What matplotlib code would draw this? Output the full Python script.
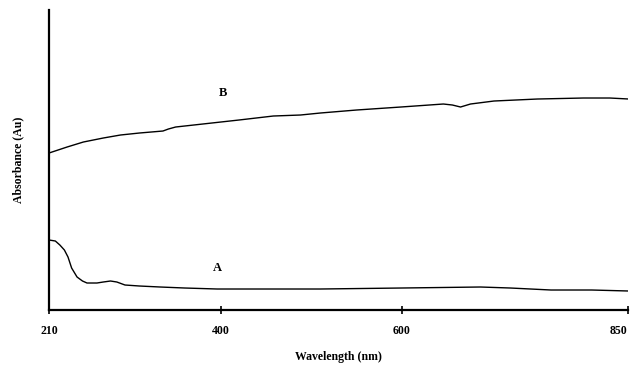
import matplotlib

matplotlib.use("Agg")
import matplotlib.pyplot as plt

# Spectrum B (upper curve)
wl_b = [210, 230, 248, 270, 289, 310, 336, 342, 350, 380, 420, 458, 488, 510,
        550, 599, 646, 656, 665, 676, 702, 750, 801, 830, 851]
abs_b = [1.57, 1.63, 1.68, 1.72, 1.75, 1.77, 1.79, 1.81, 1.83, 1.86, 1.90, 1.94,
         1.95, 1.97, 2.00, 2.03, 2.06, 2.05, 2.03, 2.06, 2.09, 2.11, 2.12, 2.12, 2.11]

# Spectrum A (lower curve)
wl_a = [210, 217, 222, 227, 231, 235, 241, 247, 252, 263, 270, 278, 285, 294,
        310, 333, 360, 396, 450, 510, 600, 687, 720, 765, 810, 851]
abs_a = [0.70, 0.69, 0.65, 0.60, 0.53, 0.42, 0.33, 0.29, 0.27, 0.27, 0.28, 0.29,
         0.28, 0.25, 0.24, 0.23, 0.22, 0.21, 0.21, 0.21, 0.22, 0.23, 0.22, 0.20,
         0.20, 0.19]

xticks = [210, 400, 600, 850]

fig = plt.figure(figsize=(6.34, 3.71), dpi=100)
ax = fig.add_axes([0.0773, 0.1644, 0.913, 0.8086])

ax.plot(wl_b, abs_b, color="black", lw=1.0)
ax.plot(wl_a, abs_a, color="black", lw=1.0)

ax.set_xlim(210, 850)
ax.set_ylim(0, 3.0)

for side in ("top", "right"):
    ax.spines[side].set_visible(False)
for side in ("left", "bottom"):
    ax.spines[side].set_linewidth(1.6)

font = dict(family="Liberation Serif", weight="bold", fontsize=8.5)

ax.set_xticks(xticks)
labels = ax.set_xticklabels([str(t) for t in xticks], **font)
labels[-1].set_horizontalalignment("right")
labels[-1].set_x(850)
ax.tick_params(axis="x", direction="inout", length=6, width=1.2, pad=8)
ax.set_yticks([])

ax.set_xlabel("Wavelength (nm)", labelpad=10, **font)
ax.set_ylabel("Absorbance (Au)", labelpad=18, **font)

ax.text(402, 2.17, "B", ha="center", va="center", family="Liberation Serif",
        weight="bold", fontsize=9)
ax.text(396, 0.42, "A", ha="center", va="center", family="Liberation Serif",
        weight="bold", fontsize=9)

fig.savefig("out.png", dpi=100)
